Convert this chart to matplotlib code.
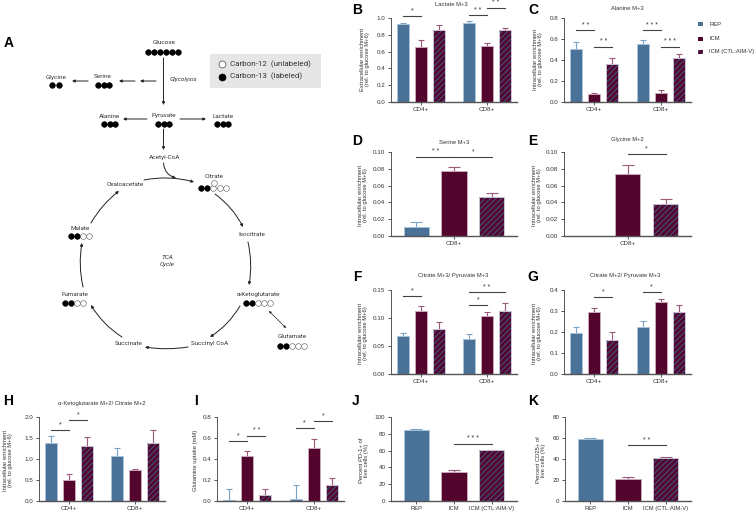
import numpy as np
import matplotlib
matplotlib.use('Agg')
import matplotlib.pyplot as plt
from matplotlib.patches import Rectangle

plt.rcParams['font.family'] = ['Liberation Sans', 'DejaVu Sans']
plt.rcParams['hatch.linewidth'] = 0.6

W, H = 756, 513

groups = ['CD4+', 'CD8+']
conditions = ['REP', 'ICM', 'ICM (CTL:AIM-V)']

b_vals = [0.93, 0.65, 0.855, 0.945, 0.665, 0.86]
b_errs = [0.015, 0.085, 0.06, 0.02, 0.04, 0.02]
c_vals = [0.505, 0.075, 0.365, 0.55, 0.09, 0.42]
c_errs = [0.07, 0.015, 0.05, 0.04, 0.02, 0.035]
d_vals = [0.0105, 0.077, 0.047]
d_errs = [0.006, 0.0055, 0.0045]
e_vals = [np.nan, 0.074, 0.0385]
e_errs = [np.nan, 0.011, 0.0055]
f_vals = [0.067, 0.113, 0.081, 0.062, 0.103, 0.113]
f_errs = [0.007, 0.009, 0.011, 0.009, 0.007, 0.014]
g_vals = [0.195, 0.295, 0.16, 0.222, 0.342, 0.295]
g_errs = [0.03, 0.017, 0.042, 0.03, 0.014, 0.032]
h_vals = [1.38, 0.49, 1.32, 1.07, 0.74, 1.39]
h_errs = [0.17, 0.15, 0.2, 0.2, 0.02, 0.3]
i_vals = [0.01, 0.43, 0.06, 0.02, 0.505, 0.155]
i_errs = [0.1, 0.045, 0.055, 0.135, 0.085, 0.065]
j_vals = [84, 35, 60.5]
j_errs = [2, 2, 0.5]
k_vals = [59, 21, 40.5]
k_errs = [1, 2, 1.5]

# brackets: first bar, last bar, height, stars
b_sig = [(0, 1, 1.02, '*'), (3, 4, 1.03, '* *'), (4, 5, 1.12, '* *')]
c_sig = [(0, 1, 0.682, '* *'), (1, 2, 0.526, '* *'), (3, 4, 0.682, '* * *'), (4, 5, 0.526, '* * *')]
d_sig = [(0, 1, 0.0944, '* *'), (1, 2, 0.0944, '*')]
e_sig = [(1, 2, 0.098, '*')]
f_sig = [(0, 1, 0.14, '*'), (3, 4, 0.123, '*'), (3, 5, 0.146, '* *')]
g_sig = [(1, 2, 0.366, '*'), (3, 4, 0.392, '*')]
h_sig = [(0, 1, 1.70, '*'), (1, 2, 1.92, '*')]
i_sig = [(0, 1, 0.571, '*'), (1, 2, 0.619, '* *'), (3, 4, 0.695, '*'), (4, 5, 0.765, '*')]
j_sig = [(1, 2, 68, '* * *')]
k_sig = [(1, 2, 53, '* *')]

face = ['#4a7298', '#54052e', '#54052e']
edge = ['#a9c3da', '#c9a9bb', '#c9c3d4']
err_col = ['#7ba3c6', '#9a5a7c', '#9a5a7c']
hatch_col = '#3d6594'
axis_col = '#555555'
text_col = '#333333'

fig = plt.figure(figsize=(W / 100, H / 100), dpi=100)
over = fig.add_axes([0, 0, 1, 1], zorder=5)
over.set_xlim(0, W)
over.set_ylim(H, 0)
over.axis('off')


def draw_panel(box, vals, errs, sig, top, ticks, fmt, ticklabels):
    x0, y_top, x1, y_bot = box
    ax = fig.add_axes([x0 / W, 1 - y_bot / H, (x1 - x0) / W, (y_bot - y_top) / H])
    if len(vals) == 6:
        x = [0, 1, 2, 3.667, 4.667, 5.667]
        ax.set_xlim(-0.667, 6.333)
        ticks_x = [1, 4.667]
        cap = 2.4
    else:
        x = [0, 1, 2]
        ax.set_xlim(-0.67, 2.67)
        ticks_x = x if len(ticklabels) == 3 else [1]
        cap = 4.3
    for i, (xi, v, e) in enumerate(zip(x, vals, errs)):
        c = i % 3
        if np.isnan(v):
            continue
        ax.errorbar(xi, v, yerr=[[0], [e]], color=err_col[c], capsize=cap, lw=0.8, capthick=0.8, zorder=1)
        if c == 2:
            ax.bar(xi, v, 0.667, color=face[c], edgecolor=hatch_col, hatch='//////', lw=0, zorder=2)
            ax.bar(xi, v, 0.667, fill=False, edgecolor=edge[c], lw=0.7, zorder=3)
        else:
            ax.bar(xi, v, 0.667, color=face[c], edgecolor=edge[c], lw=0.7, zorder=2)
    ax.set_ylim(0, top)
    ax.set_yticks(ticks)
    ax.set_yticklabels([fmt % t for t in ticks])
    ax.set_xticks(ticks_x)
    ax.set_xticklabels(ticklabels)
    ax.tick_params(axis='both', labelsize=4.5, length=2.5, width=0.7, color=axis_col,
                   labelcolor=text_col, pad=1.5)
    ax.tick_params(axis='x', pad=1, labelsize=4.2 if len(ticklabels) == 3 else 4.5)
    for s in ['top', 'right']:
        ax.spines[s].set_visible(False)
    ax.spines['left'].set_color(axis_col)
    ax.spines['left'].set_linewidth(0.7)
    ax.spines['bottom'].set_color(axis_col)
    ax.spines['bottom'].set_linewidth(1.0)
    for a, b, y, stars in sig:
        ax.plot([x[a], x[b]], [y, y], color='#444444', lw=0.8, clip_on=False, zorder=4)
        ax.annotate(stars, ((x[a] + x[b]) / 2, y), xytext=(0, 1.2), textcoords='offset points',
                    ha='center', va='bottom', fontsize=5, color=text_col, annotation_clip=False)
    return ax


draw_panel((391, 18, 517, 102), b_vals, b_errs, b_sig, 1.0, [0, .2, .4, .6, .8, 1.0], '%.1f', groups)
draw_panel((564, 18, 691, 102), c_vals, c_errs, c_sig, 0.8, [0, .2, .4, .6, .8], '%.1f', groups)
draw_panel((391, 152, 517, 236), d_vals, d_errs, d_sig, 0.10, [0, .02, .04, .06, .08, .10], '%.2f', ['CD8+'])
draw_panel((564, 152, 691, 236), e_vals, e_errs, e_sig, 0.10, [0, .02, .04, .06, .08, .10], '%.2f', ['CD8+'])
draw_panel((391, 290, 517, 374), f_vals, f_errs, f_sig, 0.15, [0, .05, .10, .15], '%.2f', groups)
draw_panel((564, 290, 691, 374), g_vals, g_errs, g_sig, 0.4, [0, .1, .2, .3, .4], '%.1f', groups)
draw_panel((39, 417, 165, 501), h_vals, h_errs, h_sig, 2.0, [0, .5, 1.0, 1.5, 2.0], '%.1f', groups)
draw_panel((217, 417, 344, 501), i_vals, i_errs, i_sig, 0.8, [0, .2, .4, .6, .8], '%.1f', groups)
draw_panel((391, 417, 517, 501), j_vals, j_errs, j_sig, 100, [0, 20, 40, 60, 80, 100], '%d', conditions)
draw_panel((565, 417, 691, 501), k_vals, k_errs, k_sig, 80, [0, 20, 40, 60, 80], '%d', conditions)

# panel letters
letters = [('A', 8.5, 43), ('B', 357, 10), ('C', 533, 10), ('D', 357, 141), ('E', 533, 141),
           ('F', 357, 277), ('G', 533, 277), ('H', 8.5, 401), ('I', 196, 401), ('J', 356, 401), ('K', 533, 401)]
for t, x, y in letters:
    over.text(x, y, t, fontsize=10, fontweight='bold', ha='center', va='center', color='black')

titles = [('Lactate M+3', 451, 5), ('Alanine M+3', 627, 8), ('Serine M+3', 454, 142), ('Glycine M+2', 627, 140),
          ('Citrate M+3/ Pyruvate M+3', 453, 275), ('Citrate M+2/ Pyruvate M+3', 625, 275),
          ('α-Ketoglutarate M+2/ Citrate M+2', 102, 404)]
for t, x, y in titles:
    over.text(x, y, t, fontsize=4.25, ha='center', va='center', color=text_col)

extra = 'Extracellular enrichment\n(rel. to glucose M+6)'
intra = 'Intracellular enrichment\n(rel. to glucose M+6)'
ylabels = [(extra, 365, 59), (intra, 538, 59), (intra, 363, 195.5), (intra, 537, 195.5),
           (intra, 363, 333), (intra, 537, 333), (intra, 8, 460),
           ('Glutamine uptake (mM)', 196, 460), ('Percent PD-1+ of\nlive cells (%)', 364, 460),
           ('Percent CD25+ of\nlive cells (%)', 541, 460)]
for t, x, y in ylabels:
    over.text(x, y, t, fontsize=4.2, rotation=90, ha='center', va='center', color=text_col, linespacing=1.15)

# colour key on the right
key_y = [24, 39, 52]
for i, (name, y) in enumerate(zip(conditions, key_y)):
    hatch = '//////' if i == 2 else None
    over.add_patch(Rectangle((698, y - 2), 5, 4, facecolor=face[i], edgecolor=hatch_col if i == 2 else face[i],
                             hatch=hatch, lw=0))
    over.text(709, y, name, fontsize=4.2, va='center', color=text_col)

# schematic, panel A
over.add_patch(Rectangle((210, 54), 111, 34, facecolor='#e6e6e6', edgecolor='none'))
over.plot(222, 64, 'o', ms=5, mfc='white', mec='#444444', mew=0.5)
over.plot(222, 76.5, 'o', ms=5, mfc='black', mec='black', mew=0.5)
over.text(230, 64, 'Carbon-12  (unlabeled)', fontsize=5.8, family='Roboto', va='center', color=text_col)
over.text(230, 76.5, 'Carbon-13  (labeled)', fontsize=5.8, family='Roboto', va='center', color=text_col)

# name, label position, first dot x, dots y, dot spacing, filled, open
metabolites = [
    ('Glucose', 164, 43, 148, 51.5, 6, 6, 0),
    ('Glycine', 56, 77, 52, 85, 6.5, 2, 0),
    ('Serine', 103, 77, 98, 85, 5.5, 3, 0),
    ('Alanine', 109, 116, 104, 124, 5.5, 3, 0),
    ('Pyruvate', 164, 116, 158, 124, 5.5, 3, 0),
    ('Lactate', 223, 116, 217, 124, 5.5, 3, 0),
    ('Citrate', 214.5, 177, 201, 188, 6.2, 2, 3),
    ('Malate', 80, 228, 70.5, 236, 6, 2, 2),
    ('Fumarate', 74.5, 294.5, 65, 302.5, 6, 2, 2),
    ('α-Ketoglutarate', 258.5, 294.5, 246, 303, 6.1, 2, 3),
    ('Glutamate', 292, 337, 280, 345.5, 6.1, 2, 3),
]
for name, tx, ty, dx, dy, sp, n_full, n_open in metabolites:
    over.text(tx, ty, name, fontsize=4.6, family='Roboto', ha='center', va='center', color=text_col)
    for n in range(n_full + n_open):
        full = n < n_full
        over.plot(dx + n * sp, dy, 'o', ms=4.1, mfc='black' if full else 'white',
                  mec='black' if full else '#555555', mew=0.4)
over.plot(214, 182.7, 'o', ms=4.1, mfc='white', mec='#555555', mew=0.4)

labels_only = [('Acetyl-CoA', 165, 157), ('Oxaloacetate', 125.5, 185), ('Isocitrate', 252, 234.5),
               ('Succinate', 128.5, 343.5), ('Succinyl CoA', 209.5, 343.5)]
for t, x, y in labels_only:
    over.text(x, y, t, fontsize=4.6, family='Roboto', ha='center', va='center', color=text_col)
over.text(184, 79.5, 'Glycolysis', fontsize=4.6, family='Roboto', style='italic', ha='center', va='center', color=text_col)
over.text(167.5, 261, 'TCA\nCycle', fontsize=4.6, family='Roboto', style='italic', ha='center', va='center',
          color=text_col, linespacing=1.35)

# start, end, curvature
arrows = [
    ((163.5, 58), (163.5, 105), 0), ((156, 81), (140, 81), 0), ((135, 81), (119, 81), 0), ((88, 81), (72, 81), 0),
    ((147, 119), (123, 119), 0), ((180, 119), (206, 119), 0), ((163.5, 129), (163.5, 150), 0),
    ((163.5, 163), (176, 178), 0.35), ((144, 180), (194, 182), -0.12),
    ((215, 194), (243, 227), -0.12), ((248, 242), (249, 285), -0.1), ((240, 306), (210, 337), -0.12),
    ((188, 347), (145, 347), -0.08), ((122, 337), (91, 305), -0.12), ((83, 287), (82, 243), -0.1),
    ((91, 223), (119, 191), -0.1),
]
for start, end, rad in arrows:
    over.annotate('', xy=end, xytext=start,
                  arrowprops=dict(arrowstyle='-|>', mutation_scale=4, lw=0.7, color='#222222', shrinkA=0, shrinkB=0,
                                  connectionstyle='arc3,rad=%s' % rad))
over.annotate('', xy=(269, 311), xytext=(286, 328),
              arrowprops=dict(arrowstyle='<|-|>', mutation_scale=3, lw=0.5, color='#222222', shrinkA=0, shrinkB=0))

fig.savefig('out.png', dpi=100)
